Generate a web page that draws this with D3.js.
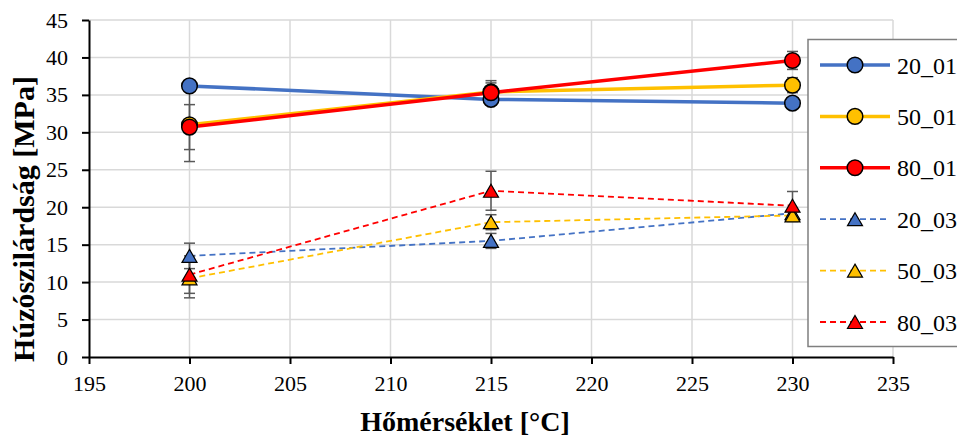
<!DOCTYPE html>
<html><head><meta charset="utf-8">
<script src="https://cdn.jsdelivr.net/npm/d3@7/dist/d3.min.js"></script>
<style>
html,body{margin:0;padding:0;background:#fff;}
svg{display:block;}
svg text{font-family:"Liberation Serif","Times New Roman",serif;}
</style></head>
<body>
<svg id="chart" width="957" height="436"></svg>
<script>
// ---- data ----
const temps = [200, 215, 230];
const seriesNames = ["20_01", "50_01", "80_01", "20_03", "50_03", "80_03"];
const s20_01 = [36.2, 34.4, 33.9];
const s50_01 = [31.0, 35.4, 36.3];
const s80_01 = [30.7, 35.3, 39.6];
const s20_03 = [13.5, 15.5, 19.2];
const s50_03 = [10.5, 18.0, 18.9];
const s80_03 = [11.0, 22.2, 20.2];
const e20_01 = [0.4, 0.7, 0.5];
const e50_01 = [4.9, 1.2, 1.0];
const e80_01 = [3.0, 1.6, 1.2];
const e20_03 = [1.7, 1.0, 0.5];
const e50_03 = [2.6, 1.0, 0.8];
const e80_03 = [2.5, 2.6, 1.9];
const xTicks = [195, 200, 205, 210, 215, 220, 225, 230, 235];
const yTicks = [0, 5, 10, 15, 20, 25, 30, 35, 40, 45];
const xTitle = "Hőmérséklet [°C]";
const yTitle = "Húzószilárdság [MPa]";

const values = [s20_01, s50_01, s80_01, s20_03, s50_03, s80_03];
const errors = [e20_01, e50_01, e80_01, e20_03, e50_03, e80_03];
const colors = ["#4472C4", "#FFC000", "#FF0000", "#4472C4", "#FFC000", "#FF0000"];
const solid = [true, true, true, false, false, false];

const series = seriesNames.map((name, i) => ({
  name, color: colors[i], solid: solid[i],
  pts: temps.map((t, j) => ({x: t, y: values[i][j], e: errors[i][j]}))
}));

// ---- layout ----
const svg = d3.select("#chart");
const L = 89, R = 893, T = 20, B = 357;
const x = d3.scaleLinear().domain([195, 235]).range([L, R]);
const y = d3.scaleLinear().domain([0, 45]).range([B, T]);

// gridlines
const grid = svg.append("g");
grid.selectAll("line.h").data(yTicks.filter(d => d > 0)).join("line")
  .attr("x1", L).attr("x2", R).attr("y1", d => y(d)).attr("y2", d => y(d))
  .attr("stroke", "#d9d9d9").attr("stroke-width", 1.5);
grid.selectAll("line.v").data(xTicks.filter(d => d > 195)).join("line")
  .attr("y1", T).attr("y2", B).attr("x1", d => x(d)).attr("x2", d => x(d))
  .attr("stroke", "#d9d9d9").attr("stroke-width", 1.5);

// axes
const xAxis = svg.append("g").attr("transform", `translate(0,${B})`)
  .call(d3.axisBottom(x).tickValues(xTicks).tickSizeOuter(0).tickSizeInner(7).tickPadding(11));
const yAxis = svg.append("g").attr("transform", `translate(${L},0)`)
  .call(d3.axisLeft(y).tickValues(yTicks).tickSizeOuter(0).tickSizeInner(7).tickPadding(14));
[xAxis, yAxis].forEach(a => {
  a.attr("font-family", null).attr("font-size", null);
  a.select(".domain").attr("stroke", "#000").attr("stroke-width", 2);
  a.selectAll(".tick line").attr("stroke", "#000").attr("stroke-width", 2);
  a.selectAll(".tick text")
    .style("font-family", "'Liberation Serif','Times New Roman',serif")
    .style("font-size", "22px").attr("fill", "#000");
});

// titles
svg.append("text").attr("x", 465).attr("y", 431).attr("text-anchor", "middle")
  .style("font-size", "28px").attr("font-weight", "bold").text(xTitle);
svg.append("text").attr("transform", "translate(34,219) rotate(-90)").attr("text-anchor", "middle")
  .style("font-size", "30px").attr("font-weight", "bold").text(yTitle);

// lines
const line = d3.line().x(d => x(d.x)).y(d => y(d.y));
svg.append("g").selectAll("path").data(series).join("path")
  .attr("d", d => line(d.pts)).attr("fill", "none").attr("stroke", d => d.color)
  .attr("stroke-width", d => d.solid ? 3.5 : 1.8)
  .attr("stroke-dasharray", d => d.solid ? null : "6,4");

// error bars
const eb = svg.append("g").attr("stroke", "#595959").attr("stroke-width", 1.5);
series.forEach(s => {
  s.pts.forEach(p => {
    const cx = x(p.x), y1 = y(p.y + p.e), y2 = y(p.y - p.e);
    eb.append("line").attr("x1", cx).attr("x2", cx).attr("y1", y1).attr("y2", y2);
    eb.append("line").attr("x1", cx - 5.5).attr("x2", cx + 5.5).attr("y1", y1).attr("y2", y1);
    eb.append("line").attr("x1", cx - 5.5).attr("x2", cx + 5.5).attr("y1", y2).attr("y2", y2);
  });
});

// markers
function tri(w, h) { return `M0,${-h/2}L${w/2},${h/2}L${-w/2},${h/2}Z`; }
function drawMarker(g, s, cx, cy) {
  if (s.solid) {
    g.append("circle").attr("cx", cx).attr("cy", cy).attr("r", 7.8)
      .attr("fill", s.color).attr("stroke", "#000").attr("stroke-width", 1.5);
  } else {
    g.append("path").attr("d", tri(15, 13)).attr("transform", `translate(${cx},${cy})`)
      .attr("fill", s.color).attr("stroke", "#000").attr("stroke-width", 1.2);
  }
}
const mk = svg.append("g");
series.forEach(s => s.pts.forEach(p => drawMarker(mk, s, x(p.x), y(p.y))));

// legend
const lg = svg.append("g");
lg.append("rect").attr("x", 808).attr("y", 39.5).attr("width", 220).attr("height", 307)
  .attr("fill", "#fff").attr("stroke", "#7f7f7f").attr("stroke-width", 1.5);
const rowY = d3.scalePoint().domain(seriesNames).range([65, 322]);
series.forEach(s => {
  const ry = rowY(s.name);
  lg.append("line").attr("x1", 820).attr("x2", 890).attr("y1", ry).attr("y2", ry)
    .attr("stroke", s.color).attr("stroke-width", s.solid ? 3.5 : 1.8)
    .attr("stroke-dasharray", s.solid ? null : "6,4");
  drawMarker(lg, s, 855, ry);
  lg.append("text").attr("x", 897).attr("y", ry + 8.5).style("font-size", "24px").attr("fill", "#000").text(s.name);
});
</script>
</body></html>
